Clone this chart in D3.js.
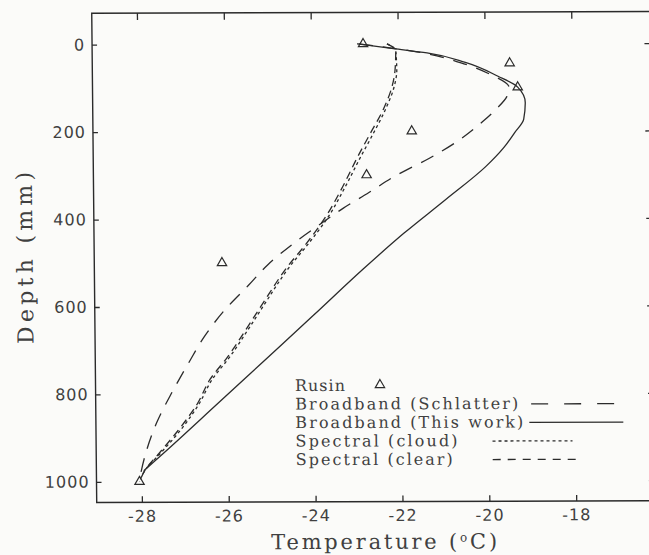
<!DOCTYPE html>
<html>
<head>
<meta charset="utf-8">
<script src="https://cdn.jsdelivr.net/npm/d3@7"></script>
<style>
  body { margin: 0; background: #fbfbf9; }
  svg { display: block; }
</style>
</head>
<body>
<script>
// temperature (degC) / depth (mm)
var xTicks = [-28, -26, -24, -22, -20, -18];
var yTicks = [0, 200, 400, 600, 800, 1000];

var rusin = [[-22.8, 0], [-19.43, 45], [-19.25, 100], [-21.7, 200], [-22.75, 300], [-26.1, 500], [-28.05, 1000]];

var schlatter = [[-22.9, 0], [-21.6, 18], [-20.55, 44], [-19.85, 72], [-19.45, 100], [-19.5, 121],
  [-19.75, 150], [-20.07, 179], [-20.6, 220], [-21.3, 262], [-22.05, 300], [-22.7, 340], [-23.3, 376],
  [-23.8, 410], [-24.45, 456], [-25.05, 505], [-25.5, 552], [-26.05, 608], [-26.5, 665], [-26.9, 730],
  [-27.3, 799], [-27.65, 867], [-27.93, 945], [-28.05, 995]];

var thisWork = [[-22.94, 0], [-22.1, 11], [-21.33, 21], [-20.45, 43], [-19.7, 75], [-19.25, 100],
  [-19.08, 135], [-19.12, 174], [-19.33, 204], [-19.6, 240], [-20.0, 281], [-20.94, 357], [-21.9, 433],
  [-22.85, 515], [-24.0, 620], [-25.15, 724], [-26.3, 828], [-27.4, 927], [-27.95, 975]];

var cloud = [[-22.25, 0], [-22.05, 15], [-22.03, 60], [-22.1, 100], [-22.3, 150], [-22.58, 204],
  [-22.88, 258], [-23.24, 326], [-23.64, 395], [-24.1, 456], [-24.55, 510], [-25.1, 590], [-25.55, 658],
  [-25.95, 716], [-26.35, 766], [-26.66, 822], [-27.1, 883], [-27.57, 936], [-27.93, 975], [-28.05, 1000]];

var clear = [[-22.25, 0], [-22.05, 15], [-22.07, 60], [-22.15, 100], [-22.35, 150], [-22.65, 204],
  [-22.95, 258], [-23.3, 326], [-23.7, 395], [-24.15, 456], [-24.6, 510], [-25.15, 590], [-25.6, 658],
  [-26.0, 716], [-26.4, 766], [-26.7, 822], [-27.15, 883], [-27.6, 936], [-27.93, 975], [-28.05, 1000]];

var legendNames = ["Rusin", "Broadband (Schlatter)", "Broadband (This work)", "Spectral (cloud)", "Spectral (clear)"];

var width = 649,
    height = 555;

var svg = d3.select("body").append("svg")
    .attr("width", width)
    .attr("height", height);

svg.append("rect")
    .attr("width", width)
    .attr("height", height)
    .attr("fill", "#fbfbf9");

// the scanned original is very slightly sheared
var g = svg.append("g")
    .attr("transform", "matrix(1,-0.003,0.0102,1,0,0)");

var x = d3.scaleLinear()
    .domain([-29.04, -16.16])
    .range([91.6, 651]);

var y = d3.scaleLinear()
    .domain([-72, 1047])
    .range([13.5, 502.7]);

var ink = "#2b2b2b";
var textInk = "#404040";

g.append("rect")
    .attr("x", x.range()[0])
    .attr("y", y.range()[0])
    .attr("width", x.range()[1] - x.range()[0])
    .attr("height", y.range()[1] - y.range()[0])
    .attr("fill", "none")
    .attr("stroke", ink)
    .attr("stroke-width", 1.4);

var fmt = function(d) { return String(d); };

var xBottom = g.append("g")
    .attr("transform", "translate(0," + y.range()[1] + ")")
    .call(d3.axisBottom(x).tickValues(xTicks).tickSizeInner(-6).tickSizeOuter(0).tickPadding(8).tickFormat(fmt));

var xTop = g.append("g")
    .attr("transform", "translate(0," + y.range()[0] + ")")
    .call(d3.axisTop(x).tickValues(xTicks).tickSizeInner(-7).tickSizeOuter(0).tickFormat(""));

var yLeft = g.append("g")
    .attr("transform", "translate(" + x.range()[0] + ",0)")
    .call(d3.axisLeft(y).tickValues(yTicks).tickSizeInner(-5).tickSizeOuter(0).tickPadding(7).tickFormat(fmt));

var yRight = g.append("g")
    .attr("transform", "translate(" + x.range()[1] + ",0)")
    .call(d3.axisRight(y).tickValues(yTicks).tickSizeInner(-7).tickSizeOuter(0).tickFormat(""));

[xBottom, xTop, yLeft, yRight].forEach(function(a) {
    a.select(".domain").remove();
    a.selectAll(".tick line").attr("stroke", ink).attr("stroke-width", 1.3);
    a.selectAll("text")
        .attr("fill", textInk)
        .attr("font-family", "DejaVu Sans")
        .attr("font-size", 16)
        .attr("letter-spacing", 1);
});

// axis titles
var xTitle = g.append("text")
    .attr("x", 380)
    .attr("y", 550)
    .attr("text-anchor", "middle")
    .attr("font-family", "DejaVu Serif")
    .attr("font-size", 21)
    .attr("letter-spacing", 2.8)
    .attr("fill", textInk);
xTitle.append("tspan").text("Temperature (");
xTitle.append("tspan").attr("dy", -7).attr("font-size", 12).text("o");
xTitle.append("tspan").attr("dy", 7).text("C)");

g.append("text")
    .attr("transform", "translate(30,258) rotate(-90)")
    .attr("text-anchor", "middle")
    .attr("font-family", "DejaVu Serif")
    .attr("font-size", 22)
    .attr("textLength", 172)
    .attr("lengthAdjust", "spacing")
    .attr("fill", textInk)
    .text("Depth (mm)");

// curves
var line = d3.line()
    .x(function(d) { return x(d[0]); })
    .y(function(d) { return y(d[1]); })
    .curve(d3.curveMonotoneY);

var series = [
    { data: schlatter, dash: "14,10" },
    { data: thisWork, dash: null },
    { data: cloud, dash: "3,3" },
    { data: clear, dash: "8,5" }
];

g.selectAll(".curve")
    .data(series)
    .enter().append("path")
    .attr("class", "curve")
    .attr("d", function(d) { return line(d.data); })
    .attr("fill", "none")
    .attr("stroke", ink)
    .attr("stroke-width", 1.3)
    .attr("stroke-dasharray", function(d) { return d.dash; });

var tri = d3.symbol().type(d3.symbolTriangle).size(38);

g.selectAll(".rusin")
    .data(rusin)
    .enter().append("path")
    .attr("class", "rusin")
    .attr("transform", function(d) { return "translate(" + x(d[0]) + "," + y(d[1]) + ")"; })
    .attr("d", tri)
    .attr("fill", "none")
    .attr("stroke", ink)
    .attr("stroke-width", 1.2);

// legend
var legY = [392, 410.5, 429, 447.5, 466];
var legLen = [50, 223, 228, 162, 157];

var leg = g.append("g");

leg.selectAll("text")
    .data(legendNames)
    .enter().append("text")
    .attr("x", 291)
    .attr("y", function(d, i) { return legY[i]; })
    .attr("font-family", "DejaVu Serif")
    .attr("font-size", 16)
    .attr("textLength", function(d, i) { return legLen[i]; })
    .attr("lengthAdjust", "spacing")
    .attr("fill", textInk)
    .text(function(d) { return d; });

leg.append("path")
    .attr("transform", "translate(376," + (legY[0] - 6) + ")")
    .attr("d", tri)
    .attr("fill", "none")
    .attr("stroke", ink)
    .attr("stroke-width", 1.2);

var legLines = [
    { i: 1, x0: 527, x1: 610, dash: "17,16" },
    { i: 2, x0: 525, x1: 619, dash: null },
    { i: 3, x0: 488, x1: 568, dash: "3,3" },
    { i: 4, x0: 488, x1: 572, dash: "8,7" }
];

leg.selectAll(".legline")
    .data(legLines)
    .enter().append("line")
    .attr("class", "legline")
    .attr("x1", function(d) { return d.x0; })
    .attr("x2", function(d) { return d.x1; })
    .attr("y1", function(d) { return legY[d.i] - 5; })
    .attr("y2", function(d) { return legY[d.i] - 5; })
    .attr("stroke", ink)
    .attr("stroke-width", 1.3)
    .attr("stroke-dasharray", function(d) { return d.dash; });
</script>
</body>
</html>
